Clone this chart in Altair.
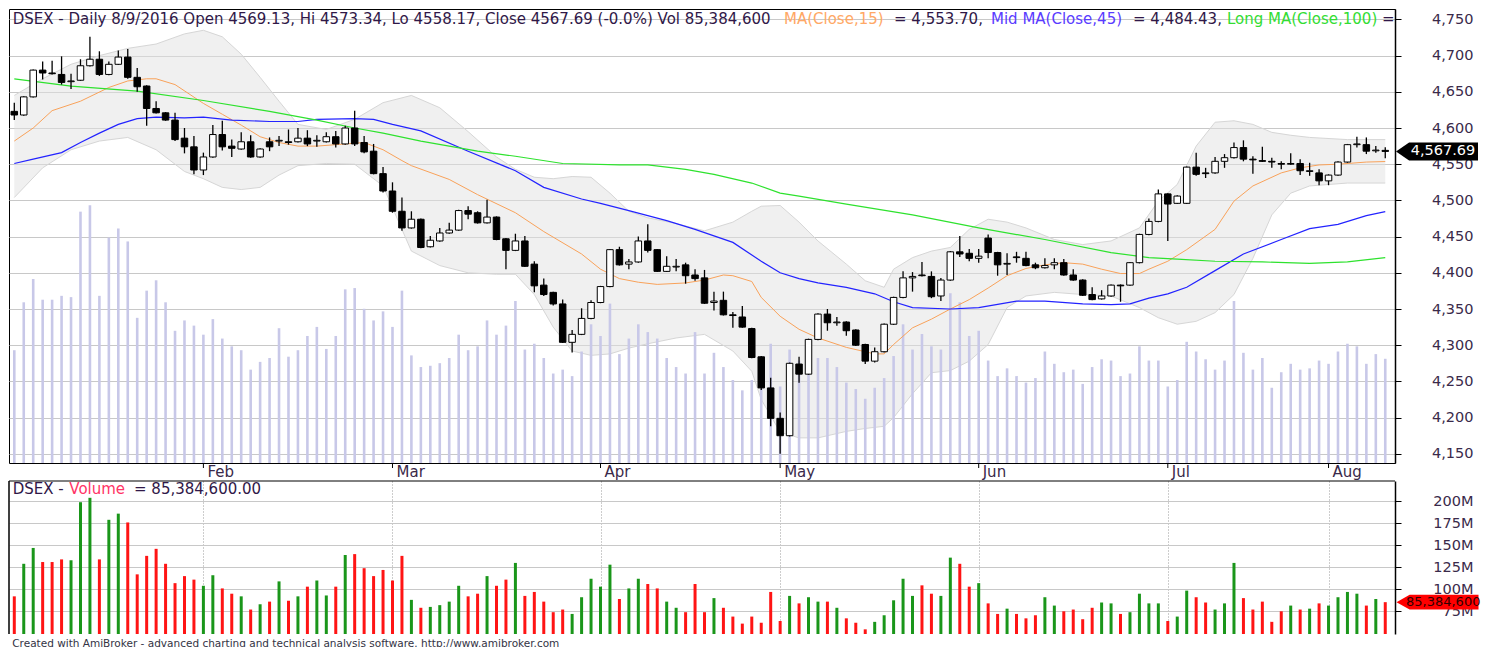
import altair as alt
import pandas as pd

# ---------------- data ----------------
opens = [4623,4618,4643,4680,4676,4674,4664,4666,4686,4695,
         4674,4688,4698,4670,4658,4627,4621,4611,4586,4574,
         4542,4560,4591,4575,4571,4581,4560,4581,4582,4581,
         4581,4586,4582,4581,4588,4578,4600,4580,4568,4537,
         4513,4485,4462,4474,4436,4444,4455,4459,4486,4483,
         4469,4477,4447,4431,4444,4412,4383,4373,4357,4304,
         4315,4337,4359,4381,4432,4412,4415,4444,4432,4402,
         4408,4411,4397,4393,4359,4362,4342,4339,4323,4284,
         4241,4199,4175,4274,4260,4308,4343,4331,4332,4321,
         4301,4278,4291,4329,4366,4393,4397,4395,4368,4390,
         4429,4427,4420,4448,4428,4412,4422,4420,4411,4407,
         4411,4414,4397,4390,4370,4364,4368,4383,4383,4414,
         4453,4471,4509,4496,4496,4546,4538,4538,4554,4559,
         4573,4557,4555,4554,4551,4550,4551,4540,4538,4527,
         4535,4553,4577,4577,4568.5,4569.13]
highs = [4635,4644,4681,4692,4693,4699,4675,4695,4726,4706,
         4692,4707,4709,4683,4659,4637,4622,4621,4600,4589,
         4566,4604,4610,4584,4594,4590,4572,4587,4589,4598,
         4600,4597,4590,4594,4596,4603,4624,4589,4578,4546,
         4525,4504,4485,4475,4451,4462,4469,4487,4492,4485,
         4501,4478,4448,4454,4451,4416,4392,4374,4363,4321,
         4351,4362,4382,4433,4436,4419,4450,4467,4433,4423,
         4419,4414,4405,4404,4374,4374,4346,4354,4324,4285,
         4255,4207,4276,4284,4309,4344,4350,4339,4333,4322,
         4302,4297,4330,4367,4402,4401,4415,4402,4393,4430,
         4451,4433,4433,4453,4429,4427,4429,4429,4414,4420,
         4420,4419,4405,4391,4380,4376,4384,4384,4415,4454,
         4475,4515,4510,4507,4547,4566,4545,4560,4564,4580,
         4583,4561,4574,4559,4554,4565,4557,4552,4543,4536,
         4554,4578,4588,4587,4575,4573.34]
lows = [4611,4617,4642,4667,4674,4660,4654,4665,4685,4672,
        4673,4687,4668,4650,4603,4620,4610,4582,4565,4536,
        4535,4559,4569,4560,4570,4559,4559,4568,4575,4577,
        4580,4575,4574,4580,4573,4577,4575,4565,4536,4511,
        4483,4458,4461,4434,4435,4443,4454,4458,4474,4468,
        4468,4445,4405,4430,4408,4373,4368,4355,4303,4290,
        4314,4336,4358,4380,4410,4405,4414,4428,4401,4401,
        4402,4385,4389,4357,4348,4341,4324,4324,4282,4238,
        4188,4150,4174,4248,4259,4307,4320,4327,4313,4299,
        4274,4276,4290,4328,4365,4374,4395,4365,4361,4389,
        4422,4416,4414,4420,4396,4397,4414,4409,4405,4406,
        4405,4396,4389,4368,4362,4363,4367,4360,4382,4413,
        4452,4470,4444,4495,4495,4534,4531,4537,4545,4558,
        4554,4537,4553,4545,4543,4549,4535,4534,4521,4521,
        4534,4552,4573,4564,4566,4558.17]
closes = [4618,4643,4680,4676,4675,4663,4665,4686,4695,4674,
          4688,4698,4670,4657,4627,4621,4611,4584,4574,4542,
          4560,4591,4574,4572,4581,4560,4571,4574,4583,4580,
          4586,4578,4583,4588,4578,4600,4578,4567,4537,4513,
          4485,4462,4474,4435,4445,4455,4459,4486,4481,4469,
          4477,4446,4431,4444,4409,4382,4370,4357,4304,4315,
          4337,4359,4381,4432,4411,4415,4444,4431,4402,4409,
          4409,4396,4392,4358,4361,4342,4341,4325,4283,4241,
          4199,4175,4275,4260,4308,4343,4331,4332,4320,4300,
          4278,4291,4329,4366,4393,4395,4396,4367,4390,4429,
          4426,4420,4423,4428,4411,4413,4421,4410,4407,4410,
          4414,4397,4390,4369,4363,4368,4383,4382,4414,4453,
          4471,4509,4495,4506,4546,4536,4537,4554,4559,4573,
          4557,4556,4554,4553,4550,4551,4541,4541,4527,4535,
          4553,4577,4578,4568,4569.5,4567.69]
volume_m = [92,129,147,131,131,134,133,199,204,134,
            179,186,176,117,138,146,129,107,115,111,
            104,116,101,95,92,77,83,86,109,87,
            92,103,110,93,103,139,140,124,115,122,
            110,138,88,79,80,82,86,104,92,95,
            115,104,111,130,92.5,97,86,74,77,72,
            91,112,103,128,89,101,112,106,101,86,
            79,74,106,74,90,79,69,61,69,62,
            97,64,92.5,84,91,86,86,79,67,62,
            54.5,63,70.5,87.5,112,92.5,104.5,95,92.5,136,
            129,103,107,84,72,78,72,67,70.5,91,
            81.5,75,77,66,79,85,84,72,74,95,
            84,84,64,69,98.5,91,85,77,84,130,
            90,77,86,63,75,81.5,77,78,84,81.5,
            91,97,95,81.5,89,85.3846]

ma15_bar = [0,2,4,7,10,12,14,15,17,20,22,24,26,28,30,32,35,37,39,41,42,46,49,53,56,60,62,64,66,68,71,73,75,76,78,79,81,83,85,88,91,92,93,95,97,99,101,103,105,107,109,111,113,115,117,119,120,122,124,127,129,131,134,136,138,140,143,145]
ma15_val = [4582,4600,4624,4637,4656,4665,4668,4668,4660,4634,4619,4604,4588,4580,4575,4575,4578,4580,4570,4555,4548,4529,4508,4483,4457,4426,4405,4392,4387,4384,4386,4390,4397,4396,4388,4366,4340,4322,4310,4297,4288,4288,4301,4324,4336,4350,4363,4379,4396,4406,4411,4414,4412,4405,4399,4399,4405,4416,4432,4460,4499,4520,4538,4545,4549,4550,4553,4553.7]

ma45_bar = [0,2,5,7,9,11,13,15,18,20,23,27,30,32,36,38,40,43,48,53,56,60,62,65,69,72,76,79,81,83,85,88,91,93,95,99,102,106,109,113,116,118,120,122,124,127,130,134,137,140,143,145]
ma45_val = [4551,4557,4566,4580,4593,4605,4613,4615,4614,4615,4611,4609,4609,4612,4613,4612,4605,4596,4568,4541,4518,4502,4496,4486,4472,4460,4442,4416,4400,4392,4386,4380,4371,4360,4352,4350,4352,4361,4361,4357,4356,4357,4365,4371,4380,4403,4426,4446,4461,4467,4479,4484.43]

ma100_bar = [0,6,13,20,27,32,36,39,43,49,53,58,64,67,71,74,78,81,83,88,95,102,109,116,120,123,127,132,137,141,145]
ma100_val = [4668,4658,4651,4638,4623,4611,4600,4593,4582,4568,4561,4551,4549,4549,4543,4536,4524,4510,4506,4495,4480,4462,4446,4428,4421,4419,4416,4415,4413,4415,4421]

band_bar = [0,3,6,9,12,15,18,20,22,24,26,28,30,33,36,39,42,45,48,51,53,55,57,59,61,63,65,67,70,73,76,78,79,81,83,85,88,90,92,93,95,97,99,101,103,105,107,110,113,116,119,121,123,125,127,129,131,133,135,137,141,145]
band_upper = [4645,4668,4688,4700,4710,4716,4730,4735,4726,4702,4670,4637,4605,4598,4612,4635,4645,4628,4595,4560,4543,4532,4530,4533,4532,4510,4485,4476,4468,4458,4470,4485,4492,4493,4470,4444,4412,4389,4380,4405,4421,4430,4435,4460,4474,4470,4462,4446,4439,4444,4462,4499,4522,4575,4608,4610,4605,4594,4590,4587,4584,4584]
band_lower = [4504,4545,4570,4582,4587,4570,4540,4530,4518,4515,4518,4535,4548,4551,4550,4520,4430,4410,4400,4398,4398,4370,4325,4292,4286,4288,4296,4302,4310,4315,4292,4264,4225,4180,4172,4172,4181,4185,4188,4200,4233,4262,4265,4278,4301,4352,4368,4373,4370,4368,4352,4338,4329,4333,4345,4370,4420,4480,4510,4520,4524,4524]

month_bars = [20, 40, 62, 81, 102, 122, 139]
month_names = ["Feb", "Mar", "Apr", "May", "Jun", "Jul", "Aug"]
price_ticks = list(range(4150, 4751, 50))
vol_ticks = [75, 100, 125, 150, 175, 200]

# ---------------- layout constants ----------------
W = 1386
H_TOP = 454
H_BOT = 153
FONT = "DejaVu Sans"
TXT = "#301848"
LBL = "#3a2a4a"

bars = list(range(len(closes)))
df = pd.DataFrame({"bar": bars, "open": opens, "high": highs, "low": lows,
                   "close": closes, "vol": volume_m})
df["dir"] = ["up" if c >= o else "down" for o, c in zip(opens, closes)]
month_df = pd.DataFrame({"bar": month_bars, "name": month_names})

x_scale = alt.Scale(domain=[-0.56, 146.03], nice=False, zero=False, padding=0)
p_scale = alt.Scale(domain=[4137.3, 4764.4], nice=False, zero=False, padding=0)
ovl_scale = alt.Scale(domain=[4.9, 355.5], nice=False, zero=False, padding=0)
v_scale = alt.Scale(domain=[49.2, 223.1], nice=False, zero=False, padding=0)

X0 = alt.X("bar:Q", scale=x_scale, axis=None)
X_GRID = alt.X("bar:Q", scale=x_scale,
               axis=alt.Axis(values=month_bars, labels=False, ticks=False, domain=False,
                             grid=True, gridDash=[1, 2], gridColor="#9a9a9a",
                             gridWidth=1, title=None))

def right_axis(values, expr):
    return alt.Axis(orient="right", values=values, labelExpr=expr,
                    grid=True, gridColor="#c8c8c8", gridWidth=1.2,
                    tickSize=6, tickColor="#000", domainColor="#000",
                    domainWidth=1.5, labelAlign="right", labelPadding=72,
                    labelFontSize=14.5, labelFont=FONT, labelColor=LBL, title=None)

# ---------------- top panel ----------------
band_df = pd.DataFrame({"bar": band_bar, "up": band_upper, "lo": band_lower})
band_area = alt.Chart(band_df).mark_area(color="#e2e2e2", opacity=0.5).encode(
    x=X0, y=alt.Y("lo:Q", scale=p_scale, axis=None), y2="up:Q")
band_up = alt.Chart(band_df).mark_line(color="#d6d6d6", strokeWidth=1).encode(
    x=X0, y=alt.Y("up:Q", scale=p_scale, axis=None))
band_lo = alt.Chart(band_df).mark_line(color="#d6d6d6", strokeWidth=1).encode(
    x=X0, y=alt.Y("lo:Q", scale=p_scale, axis=None))

ovl = alt.Chart(df).mark_rule(strokeWidth=2.6, color="#c8c8e8").encode(
    x=X0, y=alt.Y("vol:Q", scale=ovl_scale, axis=None), y2=alt.value(H_TOP))

def ma_line(bx, vals, color, width):
    d = pd.DataFrame({"bar": bx, "val": vals})
    return alt.Chart(d).mark_line(color=color, strokeWidth=width).encode(
        x=X0, y=alt.Y("val:Q", scale=p_scale, axis=None))

ma15 = ma_line(ma15_bar, ma15_val, "#f9a25a", 1.0)
ma45 = ma_line(ma45_bar, ma45_val, "#2323ff", 1.2)
ma100 = ma_line(ma100_bar, ma100_val, "#2ee22e", 1.2)

wicks = alt.Chart(df).mark_rule(color="#000", strokeWidth=1.3).encode(
    x=X_GRID,
    y=alt.Y("low:Q", scale=p_scale, axis=right_axis(price_ticks, "format(datum.value, ',')")),
    y2="high:Q")

bodies = alt.Chart(df).mark_bar(size=6.5, stroke="#000", strokeWidth=1).encode(
    x=X0, y=alt.Y("open:Q", scale=p_scale, axis=None, stack=None), y2="close:Q",
    fill=alt.Fill("dir:N", scale=alt.Scale(domain=["up", "down"], range=["#ffffff", "#000000"]),
                  legend=None))

month_ticks = alt.Chart(month_df).mark_rule(color="#000", strokeWidth=1).encode(
    x=X0, y=alt.value(H_TOP), y2=alt.value(H_TOP + 5))
month_text = alt.Chart(month_df).mark_text(align="left", baseline="top", dx=4,
                                           fontSize=15, font=FONT, color=LBL).encode(
    x=X0, y=alt.value(H_TOP + 2), text="name:N")

TAG_PATH = "M-1,0L-0.68,-0.22L1,-0.22L1,0.22L-0.68,0.22Z"
last_df = pd.DataFrame({"p": [closes[-1]], "lbl": [f"{closes[-1]:,.2f}"]})
p_tag = alt.Chart(last_df).mark_point(shape=TAG_PATH, filled=True, fill="#000",
                                      strokeWidth=0, size=6724, opacity=1).encode(
    x=alt.value(1428), y=alt.Y("p:Q", scale=p_scale, axis=None))
p_tag_txt = alt.Chart(last_df).mark_text(color="#fff", fontSize=14.5, font=FONT,
                                         align="center", baseline="middle").encode(
    x=alt.value(1434), y=alt.Y("p:Q", scale=p_scale, axis=None), text="lbl:N")

def seg(text, x, y, color):
    return alt.Chart(pd.DataFrame({"t": [text]})).mark_text(
        align="left", baseline="middle", fontSize=15, font=FONT, color=color).encode(
        x=alt.value(x), y=alt.value(y), text="t:N")

title_segs = [
    seg("DSEX - Daily 8/9/2016 Open 4569.13, Hi 4573.34, Lo 4558.17, Close 4567.69 (-0.0%) Vol 85,384,600", 3.7, 10, TXT),
    seg("MA(Close,15)", 775, 10, "#ffa866"),
    seg("= 4,553.70,", 885, 10, TXT),
    seg("Mid MA(Close,45)", 982, 10, "#5a3cff"),
    seg("= 4,484.43,", 1124, 10, TXT),
    seg("Long MA(Close,100)", 1218, 10, "#33dd33"),
    seg("=", 1373, 10, TXT),
]

top = alt.layer(band_area, band_up, band_lo, ovl, ma15, ma45, ma100, wicks, bodies,
                month_ticks, month_text, p_tag, p_tag_txt, *title_segs
                ).resolve_scale(y="independent").properties(width=W, height=H_TOP)

# ---------------- bottom panel ----------------
vol_rules = alt.Chart(df).mark_rule(strokeWidth=3).encode(
    x=X_GRID,
    y=alt.Y("vol:Q", scale=v_scale, axis=right_axis(vol_ticks, "datum.value + 'M'")),
    y2=alt.value(H_BOT),
    color=alt.Color("dir:N", scale=alt.Scale(domain=["up", "down"], range=["#1a961a", "#ff1414"]),
                    legend=None))

frame_df = pd.DataFrame({"k": [0]})
frame_top = alt.Chart(frame_df).mark_rule(color="#000", strokeWidth=1).encode(
    x=alt.value(0), x2=alt.value(W), y=alt.value(0))
frame_left = alt.Chart(frame_df).mark_rule(color="#000", strokeWidth=1.5).encode(
    x=alt.value(0), y=alt.value(0), y2=alt.value(H_BOT))

lastv_df = pd.DataFrame({"v": [volume_m[-1]], "lbl": ["85,384,600"]})
v_tag = alt.Chart(lastv_df).mark_point(shape="M-1,0L-0.68,-0.18L1,-0.18L1,0.18L-0.68,0.18Z",
                                       filled=True, fill="#ff0000", strokeWidth=0,
                                       size=6724, opacity=1).encode(
    x=alt.value(1428.5), y=alt.Y("v:Q", scale=v_scale, axis=None))
v_tag_txt = alt.Chart(lastv_df).mark_text(color="#300000", fontSize=13, font=FONT,
                                          align="left", baseline="middle").encode(
    x=alt.value(1397), y=alt.Y("v:Q", scale=v_scale, axis=None), text="lbl:N")

vol_segs = [
    seg("DSEX - ", 3.7, 8, TXT),
    seg("Volume", 60.3, 8, "#ff3366"),
    seg("= 85,384,600.00", 125, 8, TXT),
]

bottom = alt.layer(vol_rules, frame_top, frame_left, v_tag, v_tag_txt, *vol_segs
                   ).resolve_scale(y="independent").properties(
    width=W, height=H_BOT, view=alt.ViewConfig(stroke=None))

chart = alt.vconcat(top, bottom, spacing=-3).properties(
    padding=0,
    title=alt.TitleParams(
        text="Created with AmiBroker - advanced charting and technical analysis software. http://www.amibroker.com",
        orient="bottom", anchor="start", fontSize=10.5, font=FONT, fontWeight="normal",
        color="#333344", offset=3, dx=4),
).configure(font=FONT).configure_view(stroke="#000", strokeWidth=1)

chart.save("out.html", embed_options={"renderer": "svg", "actions": False})
